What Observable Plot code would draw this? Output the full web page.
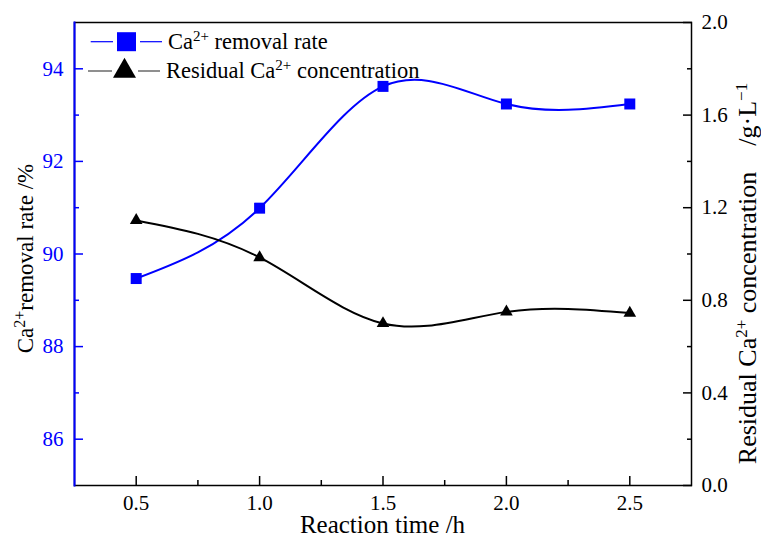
<!DOCTYPE html>
<html><head><meta charset="utf-8">
<script src="https://cdn.jsdelivr.net/npm/d3@7"></script>
<script src="https://cdn.jsdelivr.net/npm/@observablehq/plot@0.6"></script>
<style>body{margin:0;background:#fff}</style>
</head><body><div id="chart"></div>
<script>
// ---- data ----
const times = [0.5, 1.0, 1.5, 2.0, 2.5];
const removalRate = [89.47, 90.99, 93.62, 93.24, 93.24];   // %, left axis
const residualConc = [1.145, 0.985, 0.70, 0.75, 0.745];    // g/L, right axis
const xTicks = [0.5, 1.0, 1.5, 2.0, 2.5];
const xMinorTicks = [0.75, 1.25, 1.75, 2.25];
const leftTicks = [86, 88, 90, 92, 94];
const leftMinorTicks = [87, 89, 91, 93];
const rightTicks = [0.0, 0.4, 0.8, 1.2, 1.6, 2.0];
const rightMinorTicks = [0.2, 0.6, 1.0, 1.4, 1.8];
const xDomain = [0.25, 2.75];
const leftDomain = [85, 95];
const rightDomain = [0, 2];

const blue = "#0000ff";
const font = "'Liberation Serif', 'Times New Roman', serif";
const yR = d3.scaleLinear(rightDomain, leftDomain);
const data = times.map((t, i) => ({t, rate: removalRate[i], conc: residualConc[i]}));

function richText(sel, parts, supSize, shift) {
  let prevSup = false;
  parts.forEach(([s, sup]) => {
    const ts = sel.append("tspan").text(s);
    if (sup) ts.attr("font-size", supSize).attr("dy", -shift);
    else if (prevSup) ts.attr("dy", shift);
    prevSup = !!sup;
  });
}

function decorations(index, scales, values, dims) {
  const g = d3.create("svg:g").attr("font-family", font).attr("fill", "black");
  const L = dims.marginLeft, T = dims.marginTop;
  const R = dims.width - dims.marginRight, B = dims.height - dims.marginBottom;
  // legend
  const items = [
    {dy: 19.7, line: blue, fill: blue, sym: d3.symbolSquare, size: 19 * 19, seg: [[16.7, 39], [66, 88]], cx: 52.5, tx: 94,
     parts: [["Ca"], ["2+", true], [" removal rate"]]},
    {dy: 49, line: "#444", fill: "black", sym: d3.symbolTriangle, size: 23 * 23 * Math.sqrt(3) / 4, seg: [[14, 38], [64, 86]], cx: 50.5, tx: 92,
     parts: [["Residual Ca"], ["2+", true], [" concentration"]]}
  ];
  items.forEach(it => {
    const y = T + it.dy;
    it.seg.forEach(([a, b]) => g.append("line").attr("x1", L + a).attr("x2", L + b).attr("y1", y).attr("y2", y)
      .attr("stroke", it.line).attr("stroke-width", 1.2));
    g.append("path").attr("d", d3.symbol(it.sym, it.size)()).attr("transform", `translate(${L + it.cx},${y})`).attr("fill", it.fill);
    const t = g.append("text").attr("x", L + it.tx).attr("y", y).attr("dy", "0.32em").attr("font-size", 22.5)
      .attr("text-anchor", "start");
    richText(t, it.parts, 15, 8);
  });
  // axis titles
  g.append("text").attr("x", (L + R) / 2).attr("y", B + 40).attr("dy", "0.32em")
    .attr("text-anchor", "middle").attr("font-size", 25).text("Reaction time /h");
  const lt = g.append("text").attr("transform", `translate(26,${(T + B) / 2 + 5}) rotate(-90)`).attr("dy", "0.32em")
    .attr("text-anchor", "middle").attr("font-size", 23);
  richText(lt, [["Ca"], ["2+", true], ["removal rate /%"]], 16, 8);
  const rt = g.append("text").attr("transform", `translate(${R + 57},${(T + B) / 2 + 20}) rotate(-90)`).attr("dy", "0.32em")
    .attr("text-anchor", "middle").attr("font-size", 26);
  richText(rt, [["Residual Ca"], ["2+", true], [" concentration\u00a0\u00a0\u00a0\u00a0/g\u00b7L"], ["\u22121", true]], 17, 9);
  return g.node();
}

const fmt1 = d3.format(".1f");
const none = () => "";
const chart = Plot.plot({
  width: 761, height: 537,
  marginLeft: 74, marginRight: 70, marginTop: 22, marginBottom: 52,
  style: {fontFamily: font, fontSize: "21px", background: "white", overflow: "visible"},
  x: {domain: xDomain, axis: null},
  y: {domain: leftDomain, axis: null},
  marks: [
    Plot.frame({stroke: "black", strokeWidth: 1.5}),
    Plot.frame({anchor: "left", stroke: blue, strokeWidth: 2}),
    Plot.line(data, {x: "t", y: "rate", stroke: blue, strokeWidth: 2, curve: "natural"}),
    Plot.line(data, {x: "t", y: d => yR(d.conc), stroke: "black", strokeWidth: 2, curve: "natural"}),
    Plot.dot(data, {x: "t", y: "rate", symbol: "square", r: 6.2, fill: blue}),
    Plot.dot(data, {x: "t", y: d => yR(d.conc), symbol: "triangle", r: 4.7, fill: "black"}),
    // inward ticks (each shifted by its own length)
    Plot.axisX(xTicks, {anchor: "bottom", tickSize: 9, dy: -9, tickFormat: none, label: null, stroke: "black", strokeWidth: 1.5}),
    Plot.axisX(xMinorTicks, {anchor: "bottom", tickSize: 5, dy: -5, tickFormat: none, label: null, stroke: "black", strokeWidth: 1.5}),
    Plot.axisY(leftTicks, {anchor: "left", tickSize: 9, dx: 9, tickFormat: none, label: null, stroke: blue, strokeWidth: 1.5}),
    Plot.axisY(leftMinorTicks, {anchor: "left", tickSize: 5, dx: 5, tickFormat: none, label: null, stroke: blue, strokeWidth: 1.5}),
    Plot.axisY(rightTicks.map(yR), {anchor: "right", tickSize: 9, dx: -9, tickFormat: none, label: null, stroke: "black", strokeWidth: 1.5}),
    Plot.axisY(rightMinorTicks.map(yR), {anchor: "right", tickSize: 5, dx: -5, tickFormat: none, label: null, stroke: "black", strokeWidth: 1.5}),
    // tick labels
    Plot.axisX(xTicks, {anchor: "bottom", tickSize: 0, tickPadding: 10, tickFormat: fmt1, label: null, fontSize: 21, fontFamily: font}),
    Plot.axisY(leftTicks, {anchor: "left", tickSize: 0, tickPadding: 11, label: null, fill: blue, fontSize: 21, fontFamily: font}),
    Plot.axisY(rightTicks.map(yR), {anchor: "right", tickSize: 0, tickPadding: 10, tickFormat: d => fmt1(yR.invert(d)), label: null, fontSize: 21, fontFamily: font}),
    decorations
  ]
});
document.getElementById("chart").appendChild(chart);
d3.select(chart).selectAll("text").style("font-family", font);
</script>
</body></html>
